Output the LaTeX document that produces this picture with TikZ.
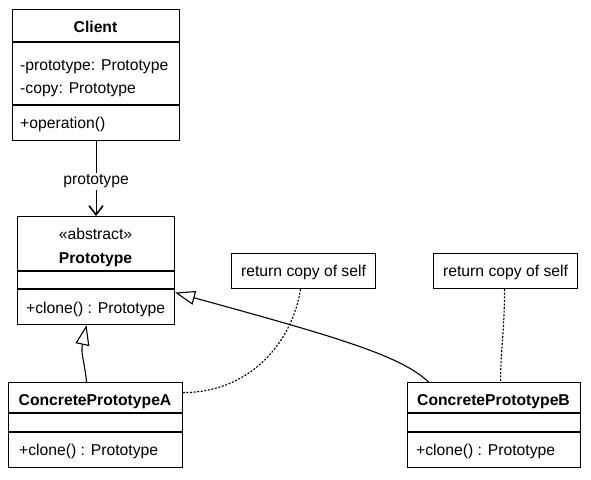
\documentclass[tikz,border=0pt]{standalone}
\usepackage{fontspec}
\setmainfont{Liberation Sans}
\usetikzlibrary{arrows.meta,calc}
\tikzset{
  box/.style={draw, line width=1.1pt, inner sep=0pt, anchor=north west},
  div/.style={line width=1.1pt},
  txt/.style={inner sep=0pt, font=\fontsize{15.7}{18}\selectfont},
  btxt/.style={inner sep=0pt, font=\fontsize{15.7}{18}\selectfont\bfseries},
  assoc/.style={line width=1.1pt, -{Straight Barb[length=9pt,width=14pt,line width=1.6pt]}},
  gen/.style={line width=1.1pt, -{Triangle[open,length=20pt,width=14pt,line width=1.1pt]}},
  anchorline/.style={line width=1.1pt, dash pattern=on 2pt off 1.6pt},
}
\begin{document}
\begin{tikzpicture}[x=1pt,y=-1pt]
\useasboundingbox (0,0) rectangle (591,479);
% Client
\node[box, minimum width=167pt, minimum height=131pt] (client) at (12,9) {};
\draw[div] (12,42) -- (179,42);
\draw[div] (12,105) -- (179,105);
\node[btxt, anchor=base] (clientname) at (95.5,32) {Client};
\node[txt, anchor=base west] (cattr1) at (20,70) {-prototype: Prototype};
\node[txt, anchor=base west] (cattr2) at (20,93) {-copy: Prototype};
\node[txt, anchor=base west] (cop) at (20,128) {+operation()};
% Prototype
\node[box, minimum width=157pt, minimum height=108pt] (proto) at (17,216) {};
\draw[div] (17,271) -- (174,271);
\draw[div] (17,289) -- (174,289);
\node[txt, anchor=base] (pster) at (95.5,239) {«abstract»};
\node[btxt, anchor=base] (pname) at (95.5,263) {Prototype};
\node[txt, anchor=base west] (pop) at (26,313) {+clone() : Prototype};
% ConcretePrototypeA
\node[box, minimum width=174pt, minimum height=85pt] (cpa) at (8,382) {};
\draw[div] (8,413) -- (182,413);
\draw[div] (8,432) -- (182,432);
\node[btxt, anchor=base] (cpaname) at (95,405) {ConcretePrototypeA};
\node[txt, anchor=base west] (cpaop) at (19,455) {+clone() : Prototype};
% ConcretePrototypeB
\node[box, minimum width=173pt, minimum height=85pt] (cpb) at (407,382) {};
\draw[div] (407,413) -- (580,413);
\draw[div] (407,432) -- (580,432);
\node[btxt, anchor=base] (cpbname) at (493.5,405) {ConcretePrototypeB};
\node[txt, anchor=base west] (cpbop) at (416,455) {+clone() : Prototype};
% Notes
\node[box, minimum width=144pt, minimum height=35pt] (note1) at (231,253) {};
\node[txt, anchor=base] (note1t) at (note1.center |- 0,276) {return copy of self};
\node[box, minimum width=144pt, minimum height=35pt] (note2) at (433,253) {};
\node[txt, anchor=base] (note2t) at (note2.center |- 0,276) {return copy of self};
% Association
\draw[assoc] (client) -- node[txt, fill=white, inner sep=2pt, pos=0.54] (assoclabel) {prototype} (proto);
% Generalizations
\draw[gen] ($(cpa.north)+(-9,0)$) .. controls ($(cpa.north)+(-11,-20)$) and ($(proto.south)+(-15.5,28)$) .. ($(proto.south)+(-9.5,0)$);
\draw[gen] ($(cpb.north)+(-65.5,0)$) .. controls ($(cpb.north)+(-93.5,-27)$) and ($(proto.east)+(156,65)$) .. ($(proto.east)+(0,22)$);
% Note anchors
\draw[anchorline] ($(note1.south)+(-3,0)$) .. controls ($(note1.south)+(-11,52)$) and ($(cpa.east)+(68,-32.5)$) .. ($(cpa.east)+(0,-32.5)$);
\draw[anchorline] ($(note2.south)+(-1,0)$) .. controls ($(note2.south)+(-1,42)$) and ($(cpb.north)+(6.5,-32)$) .. ($(cpb.north)+(6.5,0)$);
\end{tikzpicture}
\end{document}
